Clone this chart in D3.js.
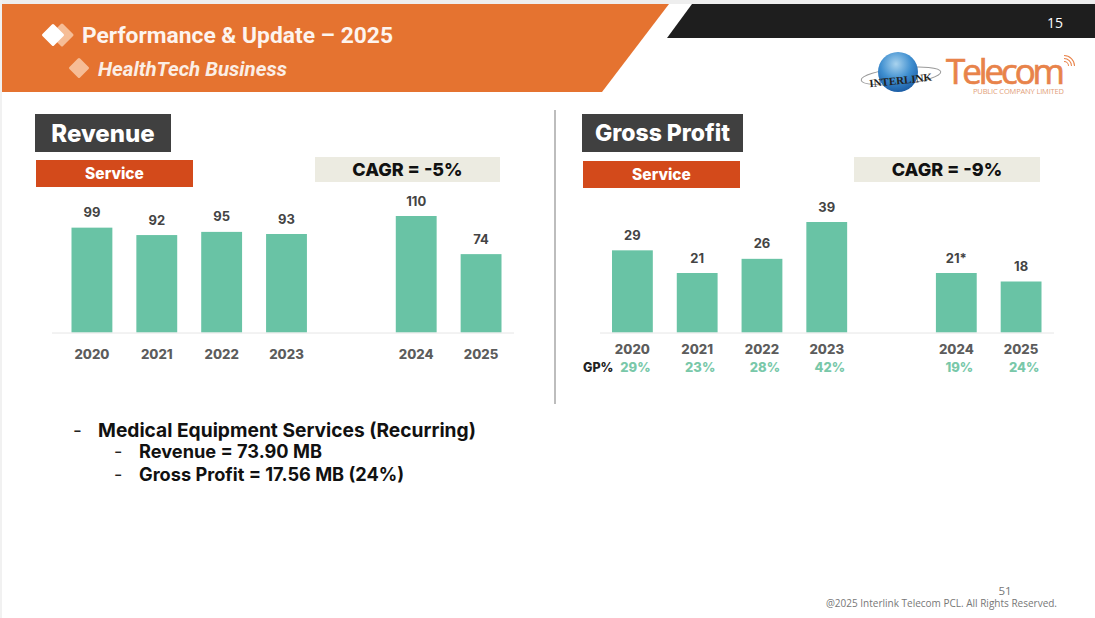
<!DOCTYPE html>
<html>
<head>
<meta charset="utf-8">
<script src="https://cdn.jsdelivr.net/npm/d3@7"></script>
<style>
html,body{margin:0;padding:0;background:#fff;}
svg{display:block;}
text{font-family:Inter,"Open Sans",sans-serif;}
</style>
</head>
<body>
<div id="graph"></div>
<script>
var years = ["2020","2021","2022","2023","gap","2024","2025"];
var revenue = [99,92,95,93,null,110,74];
var grossProfit = [29,21,26,39,null,21,18];
var profitLabels = ["29","21","26","39","","21*","18"];
var gpPercent = ["29%","23%","28%","42%","","19%","24%"];
var detailLines = ["Medical Equipment Services (Recurring)","Revenue = 73.90 MB","Gross Profit = 17.56 MB (24%)"];

var svg = d3.select("#graph").append("svg")
    .attr("width",1095)
    .attr("height",618);

var defs = svg.append("defs");
var globe = defs.append("radialGradient").attr("id","globe")
    .attr("cx","45%").attr("cy","30%").attr("r","70%");
globe.append("stop").attr("offset","0%").attr("stop-color","#a9d3ee");
globe.append("stop").attr("offset","55%").attr("stop-color","#3f8fd0");
globe.append("stop").attr("offset","100%").attr("stop-color","#1c5ea6");

// page + header
svg.append("rect").attr("width",1095).attr("height",618).attr("fill","#fff");
svg.append("rect").attr("width",1095).attr("height",4).attr("fill","#eeeeee");
svg.append("rect").attr("width",2).attr("height",618).attr("fill","#f1f1f1");
svg.append("polygon").attr("points","2,4 669,4 602,92 2,92").attr("fill","#e57330");
svg.append("polygon").attr("points","692,4 1095,4 1095,38 667,38").attr("fill","#1e1e1e");
svg.append("text").attr("x",1055).attr("y",28).attr("text-anchor","middle")
    .attr("font-size",14).attr("fill","#fff").style("font-family","Open Sans").text("15");

function diamond(cx,cy,r,fill){
    svg.append("path")
        .attr("d","M"+(cx-r)+","+cy+"L"+cx+","+(cy-r)+"L"+(cx+r)+","+cy+"L"+cx+","+(cy+r)+"Z")
        .attr("fill",fill).attr("stroke",fill).attr("stroke-width",3).attr("stroke-linejoin","round");
}
diamond(62,35,10,"#f6bd96");
diamond(53,35,9.5,"#fff");
diamond(79,68,8.5,"#f6bd96");
svg.append("text").attr("x",82).attr("y",42.5).attr("font-size",22.8).attr("font-weight",700)
    .attr("fill","#fdf4ee").style("font-family","Roboto").text("Performance & Update – 2025");
svg.append("text").attr("x",98).attr("y",76).attr("font-size",20.5).attr("font-weight",700)
    .attr("font-style","italic").attr("fill","#fbeee5").style("font-family","Roboto").text("HealthTech Business");

// logo
var logo = svg.append("g");
logo.append("ellipse").attr("cx",901).attr("cy",76).attr("rx",40).attr("ry",8)
    .attr("fill","none").attr("stroke","#9a9a9a").attr("stroke-width",1)
    .attr("transform","rotate(-6 901 76)");
logo.append("circle").attr("cx",898).attr("cy",72).attr("r",20).attr("fill","url(#globe)");
logo.append("text").attr("x",901).attr("y",84).attr("text-anchor","middle").attr("font-size",11)
    .attr("font-weight",700).attr("fill","#222").attr("transform","rotate(-6 901 84)")
    .style("font-family","Liberation Serif").text("INTERLINK");
logo.append("text").attr("x",946).attr("y",84).attr("font-size",35).attr("fill","#e8834a")
    .attr("stroke","#e8834a").attr("stroke-width",0.7)
    .style("font-family","Open Sans").attr("textLength",119).text("Telecom");
logo.append("text").attr("x",973).attr("y",94).attr("font-size",7.5).attr("fill","#e2a07a")
    .style("font-family","Open Sans").attr("textLength",91).text("PUBLIC COMPANY LIMITED");
[4,7,10].forEach(function(r){
    logo.append("path").attr("d",d3.arc()({innerRadius:r,outerRadius:r+1,startAngle:0,endAngle:Math.PI/2}))
        .attr("transform","translate(1064,66)").attr("fill","#e8834a");
});

function label(x,y,w,h,fill,text,size,color){
    svg.append("rect").attr("x",x).attr("y",y).attr("width",w).attr("height",h).attr("fill",fill);
    svg.append("text").attr("x",x+w/2).attr("y",y+h/2).attr("dy","0.36em").attr("text-anchor","middle")
        .attr("font-size",size).attr("font-weight",800).attr("fill",color).text(text);
}

function barChart(opt){
    var x = d3.scaleBand().domain(years).range(opt.xRange).paddingInner(0.37).paddingOuter(0);
    var y = d3.scaleLinear().domain([0,opt.max]).range([332.5,opt.top]);
    var g = svg.append("g");
    var rows = years.map(function(d,i){ return {year:d,value:opt.values[i],text:opt.labels[i]}; })
        .filter(function(d){ return d.value!==null; });

    g.selectAll("rect").data(rows).enter().append("rect")
        .attr("x",function(d){ return x(d.year); })
        .attr("y",function(d){ return y(d.value); })
        .attr("width",x.bandwidth())
        .attr("height",function(d){ return 332.5-y(d.value); })
        .attr("fill","#69c3a5");
    g.selectAll("text.val").data(rows).enter().append("text")
        .attr("class","val")
        .attr("x",function(d){ return x(d.year)+x.bandwidth()/2; })
        .attr("y",function(d){ return y(d.value)-10.5; })
        .attr("text-anchor","middle").attr("font-size",13).attr("font-weight",700)
        .attr("fill","#444").text(function(d){ return d.text; });

    var axis = g.append("g").attr("transform","translate(0,332.5)")
        .call(d3.axisBottom(x).tickSize(0).tickPadding(opt.tickPad)
            .tickFormat(function(d){ return d==="gap" ? "" : d; }));
    axis.select(".domain").attr("d","M"+opt.axisRange[0]+",0.5H"+opt.axisRange[1]).attr("stroke","#e6e6e6");
    axis.selectAll("text").attr("font-size",13.2).attr("font-weight",800).attr("fill","#5c5c5c")
        .style("font-family","Inter");
    return x;
}

// left panel
label(35,114,136,38,"#404040","Revenue",24,"#fff");
label(36,160,157,27,"#d34a1b","Service",15.5,"#fff");
label(315,157,185,25,"#ecebe1","CAGR = -5%",18,"#111");
barChart({values:revenue,labels:revenue.map(String),xRange:[71.5,501.5],axisRange:[52,514],max:110,top:216,tickPad:17});

svg.append("line").attr("x1",555).attr("x2",555).attr("y1",110).attr("y2",404)
    .attr("stroke","#bdbdbd").attr("stroke-width",2);

// right panel
label(582,114,161,38,"#404040","Gross Profit",23,"#fff");
label(583,161,157,27,"#d34a1b","Service",15.5,"#fff");
label(854,157,186,25,"#ecebe1","CAGR = -9%",18,"#111");
var xp = barChart({values:grossProfit,labels:profitLabels,xRange:[612,1041.5],axisRange:[600,1054],max:39,top:222,tickPad:12});

svg.append("text").attr("x",583).attr("y",372).attr("font-size",12.5).attr("font-weight",800)
    .attr("fill","#222").text("GP%");
svg.selectAll("text.gp").data(gpPercent.filter(function(d){ return d!==""; })).enter().append("text")
    .attr("class","gp")
    .attr("x",function(d,i){ return xp(years.filter(function(k){ return k!=="gap"; })[i])+xp.bandwidth()/2+3; })
    .attr("y",372).attr("text-anchor","middle").attr("font-size",13).attr("font-weight",800)
    .attr("fill","#79c8a9").text(function(d){ return d; });

// notes under charts
var notes = [[73,98,437,19.2],[114,139,458,18.2],[114,139,480.5,18.2]];
notes.forEach(function(n,i){
    svg.append("text").attr("x",n[0]).attr("y",n[2]).attr("font-size",n[3]).attr("fill","#222").text("-");
    svg.append("text").attr("x",n[1]).attr("y",n[2]).attr("font-size",n[3]).attr("font-weight",700)
        .attr("fill","#111").text(detailLines[i]);
});

// footer
svg.append("text").attr("x",1005).attr("y",595).attr("text-anchor","middle").attr("font-size",11.5)
    .attr("fill","#777").style("font-family","Open Sans").text("51");
svg.append("text").attr("x",1057).attr("y",607).attr("text-anchor","end").attr("font-size",10)
    .attr("fill","#777").style("font-family","Open Sans").text("@2025 Interlink Telecom PCL. All Rights Reserved.");
</script>
</body>
</html>
